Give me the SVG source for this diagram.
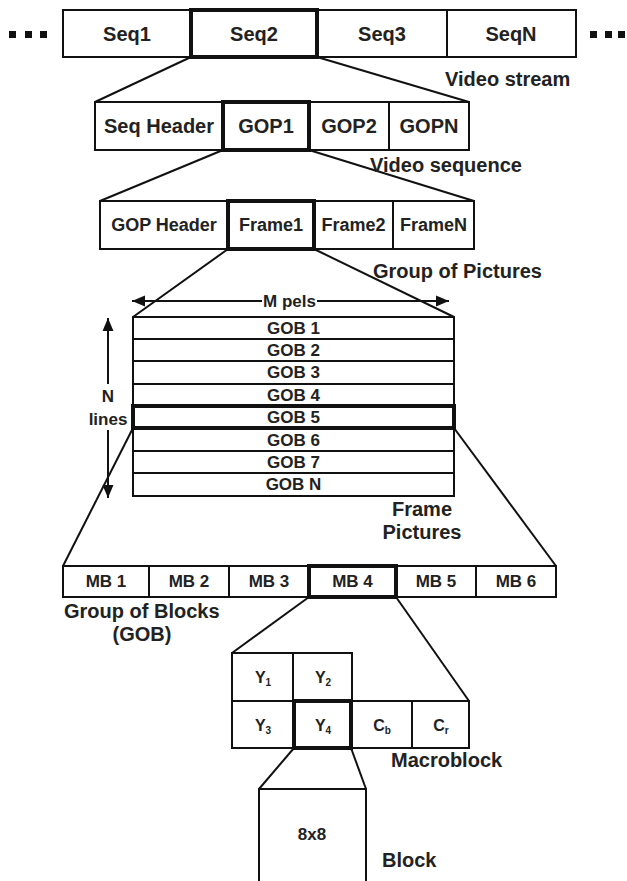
<svg xmlns="http://www.w3.org/2000/svg" width="627" height="881" viewBox="0 0 627 881">
<style>
.b{fill:#fff;stroke:#111;stroke-width:2}
.k{fill:none;stroke:#111;stroke-width:4}
.d{stroke:#111;stroke-width:2}
.c{stroke:#111;stroke-width:2;fill:none}
text{font-family:"Liberation Sans",Arial,sans-serif;font-weight:bold;fill:#222}
.t20{font-size:20px;text-anchor:middle}
.t18{font-size:18px;text-anchor:middle}
.t17{font-size:17px;text-anchor:middle}
.t14{font-size:16px;text-anchor:middle}
.lab{font-size:20px}
.sub{font-size:10px}
</style>
<defs>
<marker id="ah" viewBox="0 0 10 10" refX="10" refY="5" markerWidth="6.5" markerHeight="6.5" orient="auto-start-reverse" markerUnits="strokeWidth">
<path d="M0,0.8 L10,5 L0,9.2 z" fill="#111"/>
</marker>
</defs>
<rect width="627" height="881" fill="#fff"/>

<g id="connectors">
<line class="c" x1="191" y1="57" x2="95" y2="102"/>
<line class="c" x1="317" y1="57" x2="469" y2="102"/>
<line class="c" x1="223" y1="150" x2="100" y2="201"/>
<line class="c" x1="309" y1="150" x2="474" y2="201"/>
<line class="c" x1="228" y1="249" x2="133" y2="317"/>
<line class="c" x1="314" y1="249" x2="454" y2="317"/>
<line class="c" x1="133" y1="428" x2="63" y2="566"/>
<line class="c" x1="454" y1="428" x2="556" y2="566"/>
<line class="c" x1="309" y1="597" x2="232" y2="653"/>
<line class="c" x1="396" y1="597" x2="469" y2="701"/>
<line class="c" x1="294" y1="748" x2="259" y2="789"/>
<line class="c" x1="351" y1="748" x2="366" y2="789"/>
</g>

<g id="video-stream">
<rect x="9" y="31" width="7" height="7" fill="#111"/>
<rect x="25" y="31" width="7" height="7" fill="#111"/>
<rect x="40" y="31" width="7" height="7" fill="#111"/>
<rect class="b" x="63" y="10" width="513" height="47"/>
<line class="d" x1="447" y1="10" x2="447" y2="57"/>
<rect class="k" x="191" y="10" width="126" height="47"/>
<text class="t20" x="127" y="41">Seq1</text>
<text class="t20" x="254" y="41">Seq2</text>
<text class="t20" x="382" y="41">Seq3</text>
<text class="t20" x="511" y="41">SeqN</text>
<rect x="590" y="31" width="7" height="7" fill="#111"/>
<rect x="605" y="31" width="7" height="7" fill="#111"/>
<rect x="618" y="31" width="7" height="7" fill="#111"/>
<text class="lab" x="445" y="86">Video stream</text>
</g>

<g id="video-sequence">
<rect class="b" x="95" y="102" width="374" height="48"/>
<line class="d" x1="389" y1="102" x2="389" y2="150"/>
<rect class="k" x="223" y="102" width="86" height="48"/>
<text class="t20" x="159" y="133">Seq Header</text>
<text class="t20" x="266" y="133">GOP1</text>
<text class="t20" x="349" y="133">GOP2</text>
<text class="t20" x="429" y="133">GOPN</text>
<text class="lab" x="370" y="172">Video sequence</text>
</g>

<g id="group-of-pictures">
<rect class="b" x="100" y="201" width="374" height="48"/>
<line class="d" x1="393" y1="201" x2="393" y2="249"/>
<rect class="k" x="228" y="201" width="86" height="48"/>
<text class="t18" x="164" y="231">GOP Header</text>
<text class="t18" x="271" y="231">Frame1</text>
<text class="t18" x="353.5" y="231">Frame2</text>
<text class="t18" x="433.5" y="231">FrameN</text>
<text class="lab" x="373" y="278">Group of Pictures</text>
</g>

<g id="frame">
<line class="d" x1="262" y1="301" x2="132" y2="301" marker-end="url(#ah)"/>
<line class="d" x1="317" y1="301" x2="449" y2="301" marker-end="url(#ah)"/>
<text class="t17" x="289.5" y="307">M pels</text>
<line class="d" x1="108" y1="384" x2="108" y2="318" marker-end="url(#ah)"/>
<line class="d" x1="108" y1="430" x2="108" y2="498" marker-end="url(#ah)"/>
<text class="t17" x="108" y="402">N</text>
<text class="t17" x="108" y="425">lines</text>
<rect class="b" x="133" y="317" width="321" height="179"/>
<line class="d" x1="133" y1="339" x2="454" y2="339"/>
<line class="d" x1="133" y1="361" x2="454" y2="361"/>
<line class="d" x1="133" y1="384" x2="454" y2="384"/>
<line class="d" x1="133" y1="451" x2="454" y2="451"/>
<line class="d" x1="133" y1="473" x2="454" y2="473"/>
<rect class="k" x="133" y="406" width="321" height="22"/>
<text class="t17" x="293.5" y="334">GOB 1</text>
<text class="t17" x="293.5" y="356">GOB 2</text>
<text class="t17" x="293.5" y="378">GOB 3</text>
<text class="t17" x="293.5" y="401">GOB 4</text>
<text class="t17" x="293.5" y="423">GOB 5</text>
<text class="t17" x="293.5" y="446">GOB 6</text>
<text class="t17" x="293.5" y="468">GOB 7</text>
<text class="t17" x="293.5" y="490">GOB N</text>
<text class="lab" x="422" y="516" text-anchor="middle">Frame</text>
<text class="lab" x="422" y="539" text-anchor="middle">Pictures</text>
</g>

<g id="group-of-blocks">
<rect class="b" x="63" y="566" width="493" height="31"/>
<line class="d" x1="149" y1="566" x2="149" y2="597"/>
<line class="d" x1="229" y1="566" x2="229" y2="597"/>
<line class="d" x1="476" y1="566" x2="476" y2="597"/>
<rect class="k" x="309" y="566" width="87" height="31"/>
<text class="t17" x="106" y="587">MB 1</text>
<text class="t17" x="189" y="587">MB 2</text>
<text class="t17" x="269" y="587">MB 3</text>
<text class="t17" x="352.5" y="587">MB 4</text>
<text class="t17" x="436" y="587">MB 5</text>
<text class="t17" x="516" y="587">MB 6</text>
<text class="lab" x="64" y="618">Group of Blocks</text>
<text class="lab" x="142" y="641" text-anchor="middle">(GOB)</text>
</g>

<g id="macroblock">
<rect class="b" x="232" y="653" width="120" height="95"/>
<rect class="b" x="351" y="701" width="118" height="47"/>
<line class="d" x1="293" y1="653" x2="293" y2="748"/>
<line class="d" x1="232" y1="701" x2="352" y2="701"/>
<line class="d" x1="412" y1="701" x2="412" y2="748"/>
<rect class="k" x="294" y="701" width="57" height="47"/>
<text class="t14" x="263" y="683">Y<tspan class="sub" dy="3">1</tspan></text>
<text class="t14" x="323" y="683">Y<tspan class="sub" dy="3">2</tspan></text>
<text class="t14" x="263" y="731">Y<tspan class="sub" dy="3">3</tspan></text>
<text class="t14" x="323" y="731">Y<tspan class="sub" dy="3">4</tspan></text>
<text class="t14" x="382" y="731">C<tspan class="sub" dy="3">b</tspan></text>
<text class="t14" x="441" y="731">C<tspan class="sub" dy="3">r</tspan></text>
<text class="lab" x="391" y="767">Macroblock</text>
</g>

<g id="block">
<rect class="b" x="259" y="789" width="107" height="100"/>
<text class="t17" x="312" y="840">8x8</text>
<text class="lab" x="382" y="867">Block</text>
</g>
</svg>
